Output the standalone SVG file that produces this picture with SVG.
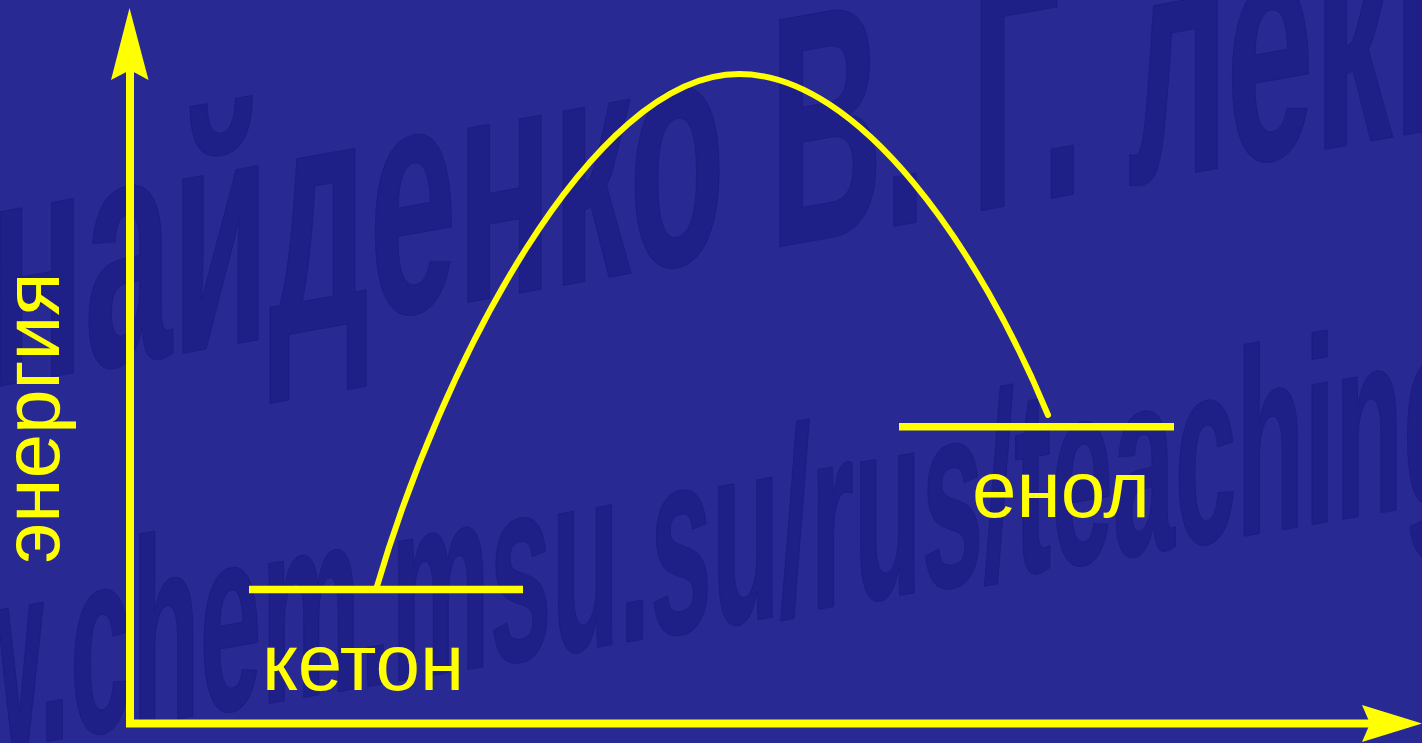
<svg xmlns="http://www.w3.org/2000/svg" width="1422" height="743" viewBox="0 0 1422 743">
  <style>
    .wm { font-family: "Liberation Sans", Arial, sans-serif; font-weight: bold; fill: #1f1f88; stroke: #1a1a80; stroke-width: 1; }
    .lbl { font-family: "Liberation Sans", Arial, sans-serif; font-size: 80px; fill: #ffff00; }
    .axis { stroke: #ffff00; stroke-width: 8; fill: none; }
    .head { fill: #ffff00; stroke: none; }
    .level { stroke: #ffff00; stroke-width: 7.5; fill: none; }
    .curve { stroke: #ffff00; stroke-width: 6; fill: none; stroke-linecap: round; }
  </style>
  <rect id="background" x="0" y="0" width="1422" height="743" fill="#292993"/>

  <g id="watermark">
    <text class="wm" font-size="330" transform="translate(-11,388) skewY(-10.13) scale(0.478,1)">найденко В. Г. лекции</text>
    <text class="wm" font-size="265" transform="translate(-43,757) skewY(-9.73) scale(0.419,1)">w.chem.msu.su/rus/teaching</text>
  </g>

  <g id="connectors">
    <line class="axis" x1="130" y1="727" x2="130" y2="70"/>
    <polygon class="head" points="129.5,8 148.5,80 130,70 111,80"/>
    <line class="axis" x1="126" y1="723.5" x2="1372" y2="723.5"/>
    <polygon class="head" points="1422,723.5 1362,705 1370,723.5 1362,742"/>
    <path id="energy-curve" class="curve" d="M376.5,588 C440,370 590,74 739,74 C860,74 980,250 1048,415"/>
  </g>

  <g id="ketone">
    <line class="level" x1="249" y1="589.5" x2="523" y2="589.5"/>
    <text class="lbl" x="363" y="690" text-anchor="middle">кетон</text>
  </g>

  <g id="enol">
    <line class="level" x1="899" y1="426.7" x2="1174" y2="426.7"/>
    <text class="lbl" x="1061" y="517" text-anchor="middle">енол</text>
  </g>

  <g id="axis-label">
    <text class="lbl" transform="translate(59,418) rotate(-90)" text-anchor="middle">энергия</text>
  </g>
</svg>
